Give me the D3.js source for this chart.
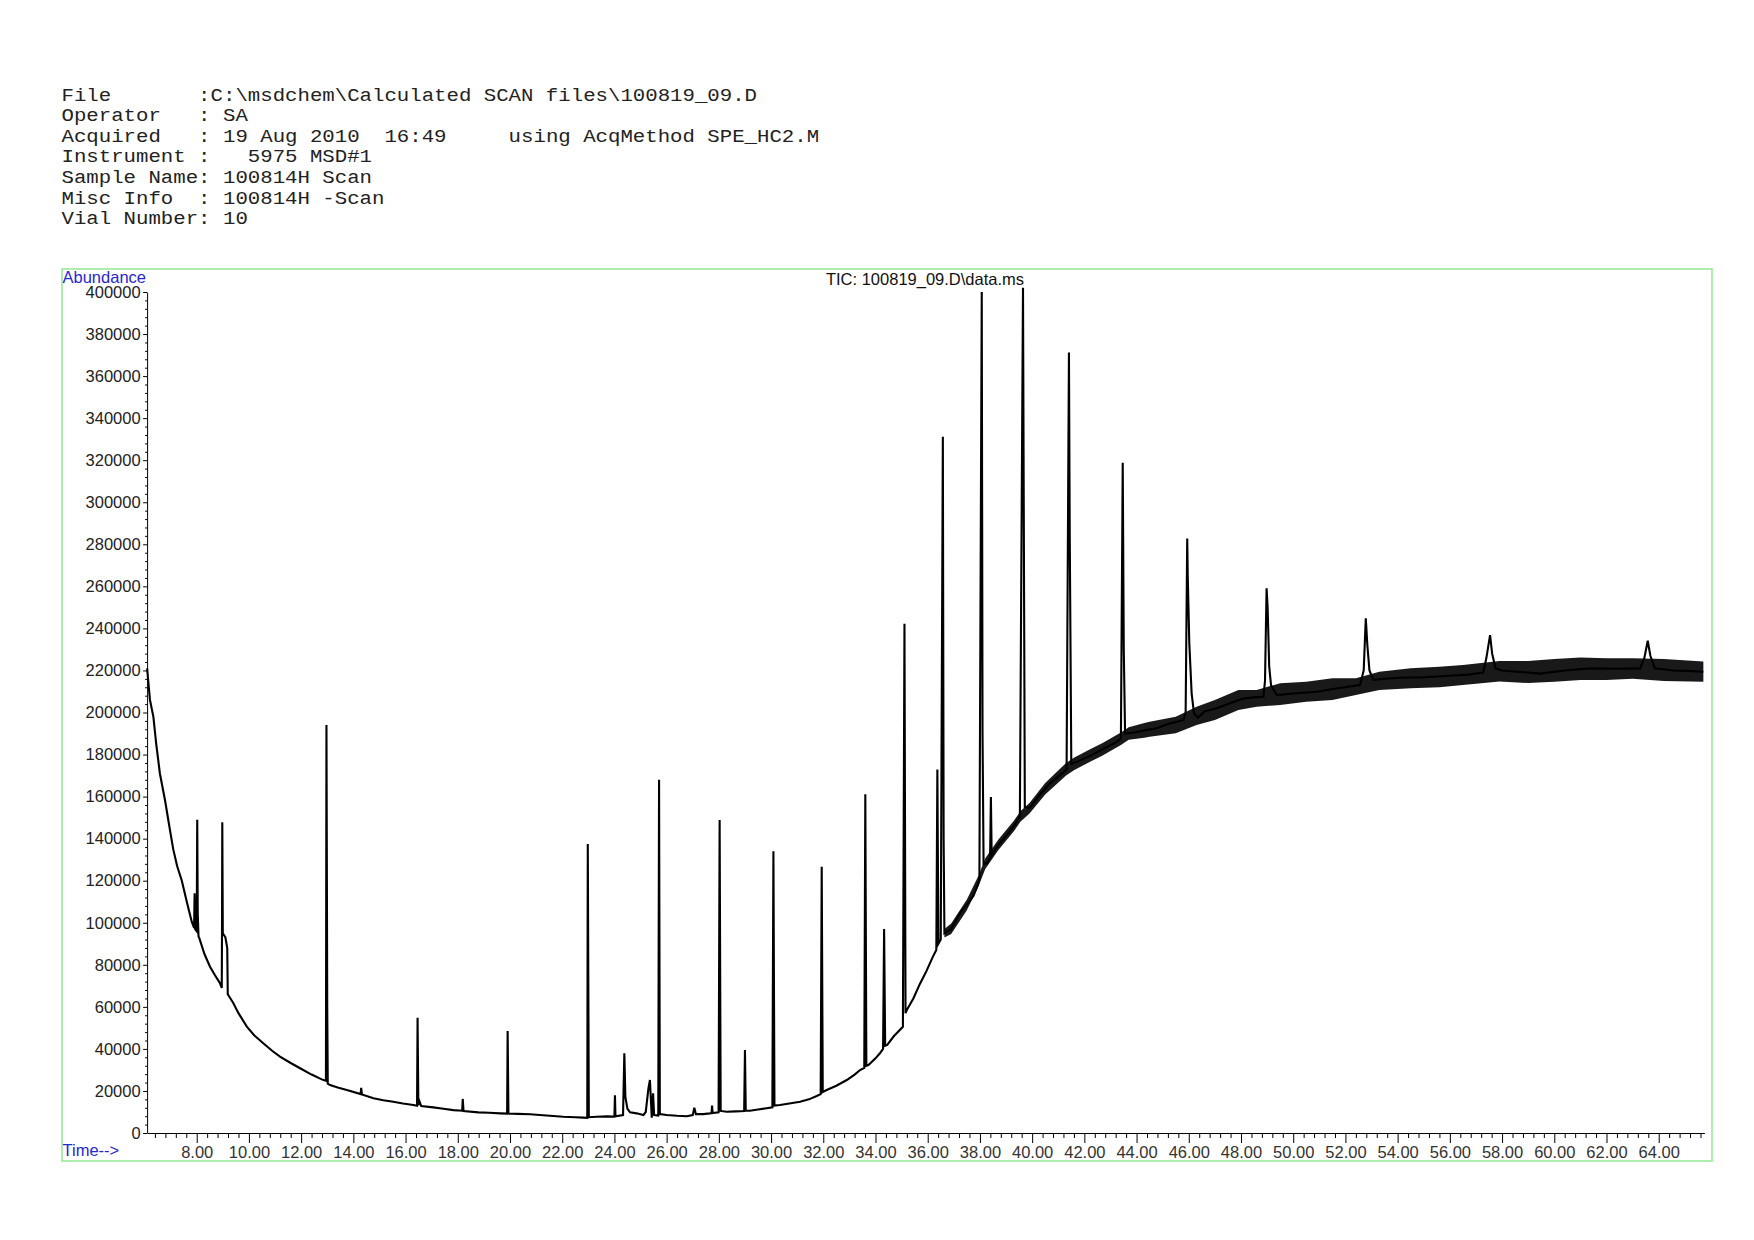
<!DOCTYPE html>
<html><head><meta charset="utf-8">
<script src="https://cdn.jsdelivr.net/npm/d3@7"></script>
<style>body{margin:0;background:#fff}svg{display:block}</style>
</head><body>
<svg id="c" width="1754" height="1240"></svg>
<script>
// ---------- header text ----------
const headerLines = [
  "File       :C:\\msdchem\\Calculated SCAN files\\100819_09.D",
  "Operator   : SA",
  "Acquired   : 19 Aug 2010  16:49     using AcqMethod SPE_HC2.M",
  "Instrument :   5975 MSD#1",
  "Sample Name: 100814H Scan",
  "Misc Info  : 100814H -Scan",
  "Vial Number: 10"
];
const chartTitle = "TIC: 100819_09.D\\data.ms";
const yAxisTitle = "Abundance";
const xAxisTitle = "Time-->";

// ---------- tick labels ----------
const xTickLabels = ["8.00","10.00","12.00","14.00","16.00","18.00","20.00","22.00","24.00","26.00","28.00","30.00","32.00","34.00","36.00","38.00","40.00","42.00","44.00","46.00","48.00","50.00","52.00","54.00","56.00","58.00","60.00","62.00","64.00"];
const yTickLabels = ["0","20000","40000","60000","80000","100000","120000","140000","160000","180000","200000","220000","240000","260000","280000","300000","320000","340000","360000","380000","400000"];
const timeDomain = [6.10, 65.75];
const abundanceDomain = [0, 400000];

// ---------- TIC trace (time in min, abundance) ----------
const traceTime = [6.10,6.21,6.34,6.45,6.59,6.79,6.95,7.10,7.25,7.43,7.62,7.81,7.90,7.92,7.94,8.00,8.02,8.04,8.07,8.10,8.30,8.51,8.70,8.89,8.96,8.97,8.98,9.00,9.10,9.17,9.19,9.40,9.60,9.92,10.20,10.55,10.90,11.19,11.60,11.96,12.40,12.79,12.95,12.97,13.00,13.02,13.11,13.40,13.75,14.28,14.30,14.33,14.77,15.15,15.53,15.90,16.30,16.44,16.46,16.49,16.52,16.60,17.06,17.45,17.83,18.17,18.19,18.22,18.79,19.20,19.62,19.89,19.91,19.94,20.30,20.77,21.40,22.04,22.50,22.81,22.96,22.98,23.02,23.32,23.70,24.00,24.02,24.04,24.33,24.38,24.42,24.50,24.60,24.85,25.11,25.20,25.30,25.36,25.40,25.43,25.48,25.52,25.68,25.71,25.74,26.00,26.40,26.77,27.00,27.06,27.12,27.40,27.66,27.72,27.74,27.76,27.99,28.03,28.07,28.30,28.65,28.97,29.00,29.03,29.19,29.50,29.83,30.05,30.09,30.13,30.34,30.70,31.11,31.45,31.75,31.90,31.94,31.98,32.13,32.50,32.90,33.20,33.41,33.57,33.61,33.65,33.73,34.00,34.17,34.29,34.33,34.37,34.45,34.70,35.05,35.11,35.15,35.20,35.45,35.70,35.95,36.20,36.33,36.37,36.41,36.50,36.58,36.61,36.64,36.90,37.24,37.50,37.75,37.92,37.98,38.07,38.10,38.14,38.28,38.39,38.42,38.45,38.70,39.01,39.30,39.53,39.65,39.68,39.72,39.90,40.30,40.68,41.00,41.32,41.41,41.44,41.50,41.80,42.22,42.70,43.24,43.40,43.47,43.51,43.56,43.90,44.30,44.77,45.20,45.79,45.88,45.94,45.96,46.02,46.11,46.20,46.35,46.60,47.07,47.60,48.09,48.50,48.86,48.92,48.98,49.02,49.08,49.15,49.37,50.00,50.90,51.70,52.56,52.70,52.78,52.84,52.92,53.07,54.00,55.00,56.00,56.70,57.28,57.40,57.54,57.62,57.75,58.00,59.46,60.40,61.37,62.30,63.29,63.45,63.58,63.68,63.85,64.56,65.10,65.71];
const traceAbundance = [221000,206000,198000,185000,171000,158000,146000,135000,127000,120000,110000,100500,97500,114000,97000,96000,149000,104000,93500,92700,85000,79100,75000,71300,69000,100000,147800,95000,93000,88000,66000,61800,57000,50600,46500,42700,39000,36300,33300,30800,27800,25500,24800,194000,60000,23500,22800,21600,20450,18500,21500,18300,16500,15600,14900,14000,13300,13000,54800,13200,15500,12800,12200,11500,10900,10600,16200,10500,9800,9600,9350,9200,48500,9300,9100,8900,8300,7750,7500,7300,7200,137500,7500,7750,7900,7800,18000,8000,8500,37900,17000,11500,9800,9350,8550,10000,21000,25200,15000,7300,18900,8500,8300,168000,9000,8550,8200,8000,8500,12000,9000,9000,9350,9500,13000,9500,9800,148900,10500,10100,10300,10500,39500,10600,10600,11200,11800,12200,134000,13000,13300,14000,14900,16000,17600,18500,126600,19500,20450,22500,25200,27800,29960,31000,161100,32000,32300,35500,37900,40000,97000,41500,41900,46000,50500,242200,57000,58500,64000,70900,77000,83900,87000,172900,90000,92000,331100,140000,95000,97000,104800,108500,112700,118000,120600,400000,190000,128000,128400,131000,159800,132000,137000,141400,146000,150600,402000,295000,155000,154600,161000,166300,169500,172900,371200,285000,175500,177000,179400,182500,186000,187500,318800,230000,190000,190500,191500,192500,194500,196400,200000,282800,265000,232900,209000,199600,197500,200500,202000,204500,206700,207200,207500,215000,259100,250000,222000,213000,208300,209000,209900,211500,213100,220000,244800,232000,220000,215500,216500,216800,217500,218000,219000,226000,236800,228000,221000,220000,218500,220000,221000,220800,221000,226000,234100,227000,221000,220000,219800,219400];

// ---------- baseline noise envelope ----------
const noiseTime = [36.64,36.9,37.5,37.95,38.2,38.7,39.3,39.55,39.9,40.5,41.3,41.6,42.2,42.7,43.4,43.7,44.3,44.5,45.5,46.3,47.0,47.9,48.6,49.5,50.5,51.5,52.4,53.3,54.5,55.6,56.5,57.9,59.0,60.0,61.0,62.0,63.0,64.2,65.71];
const noiseLow  = [93000,94700,106000,117500,125500,134500,143500,148000,152000,161000,170000,172500,176400,179500,184500,187000,188000,188500,190100,194000,196400,201200,202700,203600,205100,205900,208300,210700,211500,212000,213100,214800,214000,214600,215400,215400,216000,215000,214600];
const noiseHigh = [97000,99700,111000,122500,130500,139500,148500,153000,157000,166500,176000,178500,182400,185500,190500,193000,195000,195600,198000,202700,205900,210700,210700,213900,214600,216300,216300,219400,221000,221800,222600,224500,224500,225500,226200,225800,225800,225500,224200];

// ---------- drawing ----------
const svg = d3.select("#c");
const monoFont = "'Liberation Mono','Courier New',monospace";
const sansFont = "'Liberation Sans',Arial,Helvetica,sans-serif";

const hdr = svg.append("g").attr("font-family", monoFont).attr("font-size", 19).attr("fill", "#222");
hdr.selectAll("text").data(headerLines).join("text")
  .attr("x", 61.5).attr("y", (d, i) => 100.5 + i * 20.6)
  .attr("textLength", d => d.length * 12.42).attr("lengthAdjust", "spacingAndGlyphs")
  .attr("xml:space", "preserve").style("white-space", "pre")
  .text(d => d);

// frame
svg.append("rect").attr("x", 62).attr("y", 269).attr("width", 1650).attr("height", 892)
  .attr("fill", "none").attr("stroke", "#95e895").attr("stroke-width", 1.5);

const x = d3.scaleLinear().domain(timeDomain).range([147.1, 1704.4]);
const y = d3.scaleLinear().domain(abundanceDomain).range([1133, 292]);

svg.append("text").attr("x", 62.5).attr("y", 283).attr("font-family", sansFont).attr("font-size", 16.5)
  .attr("fill", "#2727d0").text(yAxisTitle);
svg.append("text").attr("x", 62.5).attr("y", 1156).attr("font-family", sansFont).attr("font-size", 16.5)
  .attr("fill", "#2727d0").text(xAxisTitle);
svg.append("text").attr("x", 925).attr("y", 285).attr("text-anchor", "middle").attr("font-family", sansFont)
  .attr("font-size", 16.5).attr("fill", "#111").text(chartTitle);

// x axis
const xMajor = xTickLabels.map(s => +s);
const xMinor = d3.range(16, 165).filter(k => k % 5 !== 0).map(k => k * 0.4);
const gxMinor = svg.append("g").attr("transform", "translate(0,1133)")
  .call(d3.axisBottom(x).tickValues(xMinor).tickSize(5).tickSizeOuter(0).tickFormat(""));
gxMinor.select(".domain").remove();
const gx = svg.append("g").attr("transform", "translate(0,1133)")
  .call(d3.axisBottom(x).tickValues(xMajor).tickSize(10).tickSizeOuter(0).tickPadding(3)
    .tickFormat((d, i) => xTickLabels[i]));
gx.selectAll("text").attr("font-family", sansFont).attr("font-size", 16.5).attr("fill", "#333");

// y axis
const yMajor = yTickLabels.map(s => +s);
const yMinor = d3.range(0, 101).filter(k => k % 5 !== 0).map(k => k * 4000);
const gyMinor = svg.append("g").attr("transform", "translate(147.1,0)")
  .call(d3.axisLeft(y).tickValues(yMinor).tickSize(2).tickSizeOuter(0).tickFormat(""));
gyMinor.select(".domain").remove();
const gy = svg.append("g").attr("transform", "translate(147.1,0)")
  .call(d3.axisLeft(y).tickValues(yMajor).tickSize(4).tickSizeOuter(0).tickPadding(2.5)
    .tickFormat((d, i) => yTickLabels[i]));
gy.selectAll("text").attr("font-family", sansFont).attr("font-size", 16.5).attr("fill", "#222");
svg.selectAll(".domain, .tick line").attr("stroke", "#000");

// noise band
const band = noiseTime.map((t, i) => ({t, lo: noiseLow[i], hi: noiseHigh[i]}));
svg.append("path").datum(band)
  .attr("d", d3.area().x(d => x(d.t)).y0(d => y(d.lo)).y1(d => y(d.hi)))
  .attr("fill", "#000").attr("fill-opacity", 0.9);

// trace
const trace = traceTime.map((t, i) => ({t, v: traceAbundance[i]}));
svg.append("path").datum(trace)
  .attr("d", d3.line().x(d => x(d.t)).y(d => y(d.v)))
  .attr("fill", "none").attr("stroke", "#000").attr("stroke-width", 2.1).attr("stroke-linejoin", "miter");
</script>
</body></html>
